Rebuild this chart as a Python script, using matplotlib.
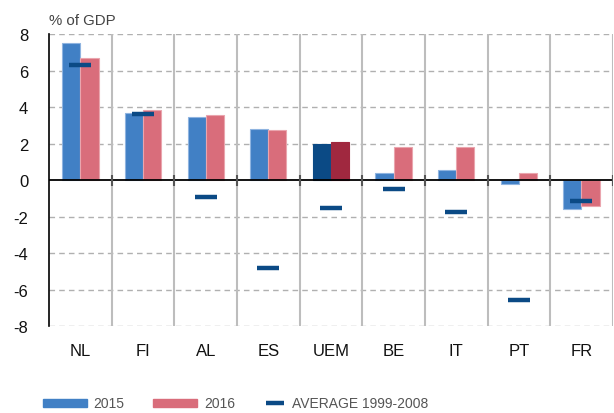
import matplotlib.pyplot as plt
import numpy as np
from matplotlib.patches import Rectangle
from matplotlib.lines import Line2D

plt.rcParams['font.family'] = ['Liberation Sans', 'DejaVu Sans']

countries = ['NL', 'FI', 'AL', 'ES', 'UEM', 'BE', 'IT', 'PT', 'FR']
y2015 = [7.5, 3.7, 3.45, 2.83, 1.97, 0.38, 0.53, -0.2, -1.57]
y2016 = [6.7, 3.85, 3.55, 2.76, 2.07, 1.81, 1.79, 0.37, -1.42]
avg = [6.3, 3.65, -0.9, -4.84, -1.55, -0.51, -1.72, -6.59, -1.17]
yticks = [-8, -6, -4, -2, 0, 2, 4, 6, 8]

blue = '#4180c5'
pink = '#d96d7b'
dblue = '#0b4a85'
dred = '#a0283f'

fig = plt.figure(figsize=(6.14, 4.14), dpi=100)
ax = fig.add_axes([0.08, 0.21, 0.918, 0.705])

x = np.arange(len(countries))
w = 0.29
c15 = [dblue if c == 'UEM' else blue for c in countries]
c16 = [dred if c == 'UEM' else pink for c in countries]
e15 = [dblue if c == 'UEM' else '#8fb4e0' for c in countries]
e16 = [dred if c == 'UEM' else '#eaa5ae' for c in countries]
ax.bar(x - w / 2, y2015, w, color=c15, edgecolor=e15, linewidth=0.8, zorder=3)
ax.bar(x + w / 2, y2016, w, color=c16, edgecolor=e16, linewidth=0.8, zorder=3)
ax.hlines(avg, x - 0.175, x + 0.175, color=dblue, linewidth=3.2, zorder=4)

ax.set_xlim(-0.5, len(countries) - 0.5)
ax.set_ylim(-8, 8)

# grid
for v in yticks:
    if v != 0:
        ax.axhline(v, color='#b0b0b0', lw=1.0, ls=(0, (4, 3)), zorder=1)
bounds = np.arange(0.5, len(countries), 1.0)
for b in bounds:
    ax.axvline(b, color='#bdbdbd', lw=1.5, zorder=1)
ax.axhline(0, color='black', lw=1.3, zorder=5)
ax.vlines(np.append(bounds, len(countries) - 0.5), -0.3, 0.3, color='#555555', lw=1.5, zorder=5)

for s in ['top', 'right', 'bottom']:
    ax.spines[s].set_visible(False)
ax.spines['left'].set_color('black')
ax.spines['left'].set_linewidth(1.2)

ax.set_yticks(yticks)
ax.set_yticklabels([str(v) for v in yticks])
ax.tick_params(axis='y', length=0, pad=15, labelsize=12, labelcolor='#111111')
ax.set_xticks(x)
ax.set_xticklabels(countries)
ax.tick_params(axis='x', length=0, pad=12, labelsize=12, labelcolor='#111111')

fig.text(0.08, 0.95, '% of GDP', fontsize=10.8, color='#444444', va='center', ha='left')

# legend
lfont = ['Liberation Sans Narrow', 'Liberation Sans', 'DejaVu Sans']
H = 414.0
Wd = 614.0
fig.add_artist(Rectangle((43 / Wd, (H - 408) / H), 44 / Wd, 8 / H, color=blue, transform=fig.transFigure))
fig.text(93 / Wd, (H - 404) / H, '2015', fontsize=10, color='#555555', va='center', family=lfont)
fig.add_artist(Rectangle((153 / Wd, (H - 408) / H), 44 / Wd, 8 / H, color=pink, transform=fig.transFigure))
fig.text(204 / Wd, (H - 404) / H, '2016', fontsize=10, color='#555555', va='center', family=lfont)
fig.add_artist(Line2D([266 / Wd, 284 / Wd], [(H - 404) / H] * 2, color=dblue, lw=3.2,
                      solid_capstyle='butt', transform=fig.transFigure))
fig.text(292 / Wd, (H - 404) / H, 'AVERAGE 1999-2008', fontsize=10, color='#555555', va='center', family=lfont)

fig.savefig('out.png', dpi=100)
